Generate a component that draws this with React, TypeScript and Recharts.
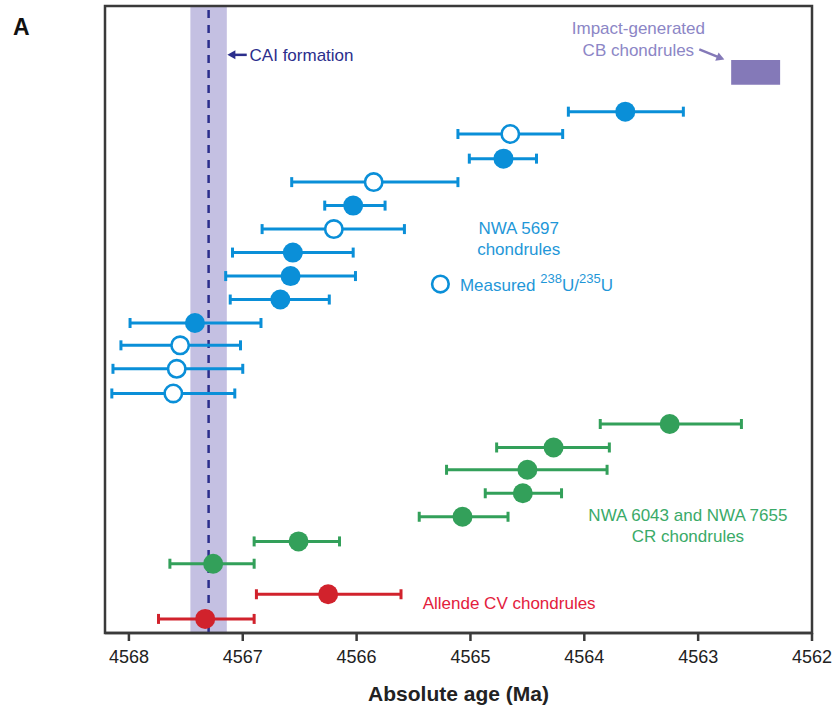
import React from 'react';
import {
  ComposedChart,
  Scatter,
  XAxis,
  YAxis,
  ErrorBar,
  ReferenceArea,
  ReferenceLine,
  ReferenceDot,
} from 'recharts';

// ---- axis ----
const xTicks = [4568, 4567, 4566, 4565, 4564, 4563, 4562];
const xDomain: [number, number] = [4562, 4568.21];
const yDomain: [number, number] = [0, 26.7];

// ---- NWA 5697 chondrules (Ma) ----
const nwa5697Ages = [4563.64, 4564.65, 4564.71, 4565.85, 4566.03, 4566.2, 4566.56, 4566.58, 4566.67, 4567.42, 4567.55, 4567.58, 4567.61];
const nwa5697Old = [4564.14, 4565.11, 4565.01, 4566.57, 4566.28, 4566.83, 4567.09, 4567.15, 4567.11, 4567.99, 4568.07, 4568.14, 4568.15];
const nwa5697Young = [4563.13, 4564.19, 4564.42, 4565.11, 4565.75, 4565.58, 4566.03, 4566.01, 4566.24, 4566.84, 4567.02, 4567.0, 4567.07];
const nwa5697Measured = [false, true, false, true, false, true, false, false, false, false, true, true, true];
const nwa5697Rows = [22.2, 21.25, 20.2, 19.2, 18.2, 17.2, 16.2, 15.2, 14.2, 13.2, 12.25, 11.25, 10.2];

// ---- NWA 6043 and NWA 7655 CR chondrules ----
const crAges = [4563.25, 4564.27, 4564.5, 4564.54, 4565.07, 4566.51, 4567.26];
const crOld = [4563.86, 4564.77, 4565.21, 4564.87, 4565.45, 4566.9, 4567.64];
const crYoung = [4562.62, 4563.78, 4563.8, 4564.2, 4564.67, 4566.15, 4566.9];
const crRows = [8.9, 7.9, 6.95, 5.95, 4.95, 3.9, 2.95];

// ---- Allende CV chondrules ----
const cvAges = [4566.25, 4567.33];
const cvOld = [4566.88, 4567.74];
const cvYoung = [4565.61, 4566.9];
const cvRows = [1.65, 0.6];

// ---- CAI formation & CB chondrules ----
const caiAge = 4567.3;
const caiErr = 0.16;
const cbOld = 4562.71;
const cbYoung = 4562.28;
const cbRows = [23.35, 24.4];

const BLUE = '#0a8fd8';
const BLUE_TXT = '#1f97d8';
const GREEN = '#33a05a';
const GREEN_TXT = '#3aaa68';
const RED = '#d1222c';
const RED_TXT = '#e3203c';
const NAVY = '#2b2e8c';
const BAND = '#c4c0e2';
const CB = '#8479b8';
const CB_TXT = '#8c86c6';
const FRAME = '#3a3a3a';
const FONT = '"Liberation Sans", Arial, Helvetica, sans-serif';

type Pt = { age: number; row: number; err: [number, number]; measured: boolean };

function build(ages: number[], old: number[], young: number[], rows: number[], flags?: boolean[]): Pt[] {
  return ages.map((a, i) => ({
    age: a,
    row: rows[i],
    err: [+(a - young[i]).toFixed(3), +(old[i] - a).toFixed(3)],
    measured: flags ? flags[i] : false,
  }));
}

const nwaAll = build(nwa5697Ages, nwa5697Old, nwa5697Young, nwa5697Rows, nwa5697Measured);
const nwaFilled = nwaAll.filter((d) => !d.measured);
const nwaOpen = nwaAll.filter((d) => d.measured);
const crData = build(crAges, crOld, crYoung, crRows);
const cvData = build(cvAges, cvOld, cvYoung, cvRows);

const filledShape = (color: string) => (p: any) => <circle cx={p.cx} cy={p.cy} r={10} fill={color} />;
const openShape = (color: string) => (p: any) => (
  <circle cx={p.cx} cy={p.cy} r={8.7} fill="#ffffff" stroke={color} strokeWidth={2.6} />
);

const center = (vb: any) => ({ x: vb.x + (vb.width || 0) / 2, y: vb.y + (vb.height || 0) / 2 });

function textAnno(key: string, x: number, y: number, lines: { slotDy: number; node: React.ReactNode }[], color: string, anchor: 'start' | 'middle' = 'middle', fs = 17) {
  return (
    <ReferenceDot
      key={key}
      x={x}
      y={y}
      r={0}
      fill="none"
      stroke="none"
      ifOverflow="visible"
      isFront
      label={(props: any) => {
        const c = center(props.viewBox);
        return (
          <g>
            {lines.map((l, i) => (
              <text
                key={i}
                x={c.x}
                y={c.y + l.slotDy + fs * 0.36}
                textAnchor={anchor}
                fontSize={fs}
                fontFamily={FONT}
                fill={color}
              >
                {l.node}
              </text>
            ))}
          </g>
        );
      }}
    />
  );
}

const arrowShape = (color: string) => (p: any) => {
  const { x1, y1, x2, y2 } = p;
  const dx = x2 - x1;
  const dy = y2 - y1;
  const len = Math.sqrt(dx * dx + dy * dy) || 1;
  const ux = dx / len;
  const uy = dy / len;
  const hl = 8;
  const hw = 4.5;
  const bx = x2 - ux * hl;
  const by = y2 - uy * hl;
  return (
    <g>
      <line x1={x1} y1={y1} x2={bx + ux * 1} y2={by + uy * 1} stroke={color} strokeWidth={2.5} />
      <polygon
        points={`${x2},${y2} ${bx - uy * hw},${by + ux * hw} ${bx + uy * hw},${by - ux * hw}`}
        fill={color}
      />
    </g>
  );
};

export default function App() {
  return (
    <div style={{ position: 'absolute', left: 0, top: 0, width: 836, height: 708, background: '#fff' }}>
      <div
        style={{
          position: 'absolute',
          left: 13,
          top: 13,
          fontFamily: FONT,
          fontWeight: 700,
          fontSize: 23,
          color: '#111',
          lineHeight: '28px',
        }}
      >
        A
      </div>
      <ComposedChart
        width={836}
        height={708}
        margin={{ top: 6, right: 24, bottom: 0, left: 105 }}
        style={{ position: 'absolute', left: 0, top: 0 }}
      >
        <XAxis
          type="number"
          dataKey="age"
          domain={xDomain}
          reversed
          allowDataOverflow
          ticks={xTicks}
          interval={0}
          height={75}
          tickSize={8}
          tickMargin={9}
          axisLine={{ stroke: FRAME, strokeWidth: 2.5 }}
          tickLine={{ stroke: FRAME, strokeWidth: 2.5 }}
          tick={{ fontSize: 18, fill: '#222', fontFamily: FONT }}
          label={{
            value: 'Absolute age (Ma)',
            position: 'insideBottom',
            offset: 7,
            style: { fontSize: 21, fontWeight: 700, fill: '#222', fontFamily: FONT },
          }}
        />
        <YAxis type="number" dataKey="row" domain={yDomain} hide allowDataOverflow />

        <ReferenceArea x1={caiAge + caiErr} x2={caiAge - caiErr} fill={BAND} fillOpacity={1} stroke="none" />
        <ReferenceArea
          x1={xDomain[1]}
          x2={xDomain[0]}
          y1={yDomain[0]}
          y2={yDomain[1]}
          fill="none"
          fillOpacity={0}
          stroke={FRAME}
          strokeWidth={2.5}
          ifOverflow="visible"
        />
        <ReferenceLine x={caiAge} stroke={NAVY} strokeWidth={2.5} strokeDasharray="8 7" />
        <ReferenceArea x1={cbOld} x2={cbYoung} y1={cbRows[0]} y2={cbRows[1]} fill={CB} fillOpacity={1} stroke="none" />

        <Scatter data={nwaFilled} isAnimationActive={false} shape={filledShape(BLUE)}>
          <ErrorBar dataKey="err" direction="x" width={5} strokeWidth={3} stroke={BLUE} />
        </Scatter>
        <Scatter data={nwaOpen} isAnimationActive={false} shape={openShape(BLUE)}>
          <ErrorBar dataKey="err" direction="x" width={5} strokeWidth={3} stroke={BLUE} />
        </Scatter>
        <Scatter data={crData} isAnimationActive={false} shape={filledShape(GREEN)}>
          <ErrorBar dataKey="err" direction="x" width={5} strokeWidth={3} stroke={GREEN} />
        </Scatter>
        <Scatter data={cvData} isAnimationActive={false} shape={filledShape(RED)}>
          <ErrorBar dataKey="err" direction="x" width={5} strokeWidth={3} stroke={RED} />
        </Scatter>

        <ReferenceLine
          segment={[
            { x: 4566.965, y: 24.62 },
            { x: 4567.135, y: 24.62 },
          ]}
          ifOverflow="visible"
          shape={arrowShape(NAVY)}
        />
        <ReferenceLine
          segment={[
            { x: 4562.99, y: 24.85 },
            { x: 4562.77, y: 24.42 },
          ]}
          ifOverflow="visible"
          shape={arrowShape(CB)}
        />

        {textAnno('cai', 4566.94, 24.62, [{ slotDy: 0, node: 'CAI formation' }], NAVY, 'start')}
        {textAnno(
          'cb',
          4563.525,
          25.29,
          [
            { slotDy: -10.8, node: 'Impact-generated' },
            { slotDy: 10.8, node: 'CB chondrules' },
          ],
          CB_TXT
        )}
        {textAnno(
          'nwa',
          4564.576,
          16.79,
          [
            { slotDy: -10.5, node: 'NWA 5697' },
            { slotDy: 10.5, node: 'chondrules' },
          ],
          BLUE_TXT
        )}
        <ReferenceDot
          x={4565.264}
          y={14.86}
          r={0}
          fill="none"
          stroke="none"
          ifOverflow="visible"
          isFront
          label={(props: any) => {
            const c = center(props.viewBox);
            return (
              <g>
                <circle cx={c.x} cy={c.y} r={8.3} fill="#fff" stroke={BLUE} strokeWidth={2.6} />
                <text x={c.x + 19.5} y={c.y + 6.5} fontSize={17} fontFamily={FONT} fill={BLUE_TXT}>
                  Measured{' '}
                  <tspan fontSize={13} dy={-7.5}>
                    238
                  </tspan>
                  <tspan fontSize={17} dy={7.5}>
                    U/
                  </tspan>
                  <tspan fontSize={13} dy={-7.5}>
                    235
                  </tspan>
                  <tspan fontSize={17} dy={7.5}>
                    U
                  </tspan>
                </text>
              </g>
            );
          }}
        />
        {textAnno(
          'cr',
          4563.09,
          4.585,
          [
            { slotDy: -10.4, node: 'NWA 6043 and NWA 7655' },
            { slotDy: 10.4, node: 'CR chondrules' },
          ],
          GREEN_TXT
        )}
        {textAnno('cv', 4564.66, 1.28, [{ slotDy: 0, node: 'Allende CV chondrules' }], RED_TXT)}
      </ComposedChart>
    </div>
  );
}
